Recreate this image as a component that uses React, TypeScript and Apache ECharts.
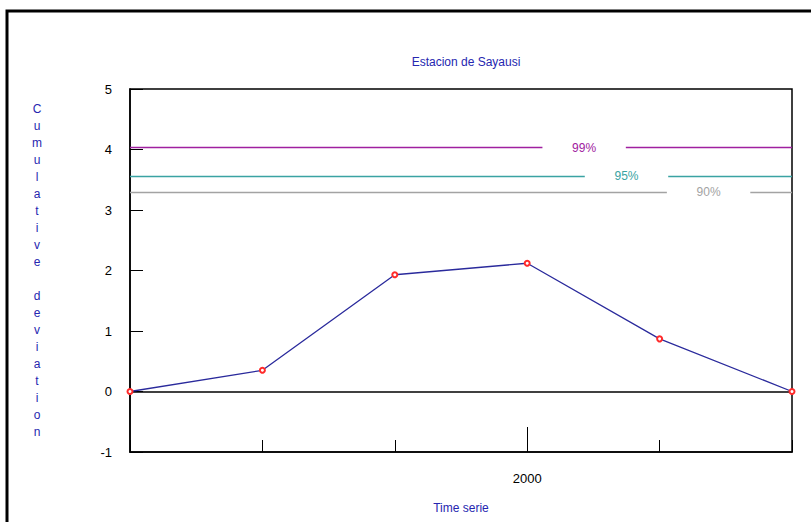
import React, { useEffect, useRef } from "react";
import * as echarts from "echarts";

// Years along the time axis and the cumulative deviation for each of them
const years = ["1997", "1998", "1999", "2000", "2001", "2002"];
const cumulativeDeviation = [0, 0.35, 1.93, 2.12, 0.87, 0];

// Critical values of the cumulative deviation test
const thresholdNames = ["99%", "95%", "90%"];
const thresholdLevels = [4.03, 3.56, 3.29];

// Y axis range
const yMin = -1;
const yMax = 5;
const yStep = 1;

const labelledYear = "2000";

// Layout / style (kept apart from the data)
const thresholdColors = ["#a020a0", "#3aa3a3", "#a3a3a3"];
const thresholdLabelAt = [2000.43, 2000.75, 2001.37];
const labelGapHalf = 0.315;
const navy = "#2626b0";
const font = "'Liberation Sans Narrow', 'Liberation Sans', Arial, sans-serif";

export default function App() {
  const ref = useRef<HTMLDivElement>(null);

  useEffect(() => {
    if (!ref.current) return;
    const chart = echarts.init(ref.current, null, { renderer: "svg" });

    const firstYear = Number(years[0]);
    const lastYear = Number(years[years.length - 1]);
    const points = years.map((y, i) => [Number(y), cumulativeDeviation[i]]);

    // Each threshold line is split in two around its label
    const segments: any[] = [];
    thresholdLevels.forEach((lvl, i) => {
      const style = { color: thresholdColors[i], width: 1.3, type: "solid" };
      segments.push([
        { coord: [firstYear, lvl], lineStyle: style },
        { coord: [thresholdLabelAt[i] - labelGapHalf, lvl] },
      ]);
      segments.push([
        { coord: [thresholdLabelAt[i] + labelGapHalf, lvl], lineStyle: style },
        { coord: [lastYear, lvl] },
      ]);
    });
    // Zero line
    segments.push([
      { coord: [firstYear, 0], lineStyle: { color: "#000", width: 1.5, type: "solid" } },
      { coord: [lastYear, 0] },
    ]);

    const isLabelled = (i: number) => years[i] === labelledYear;

    chart.setOption({
      animation: false,
      backgroundColor: "#ffffff",
      title: {
        text: "Estacion de Sayausi",
        left: 461,
        top: 51,
        textAlign: "center",
        textStyle: { color: navy, fontSize: 12, fontWeight: "normal", fontFamily: font },
      },
      graphic: [
        {
          type: "rect",
          shape: { x: 7, y: 11, width: 900, height: 900 },
          style: { fill: "none", stroke: "#000", lineWidth: 3 },
          silent: true,
        },
      ],
      grid: {
        left: 130,
        right: 19,
        top: 89,
        bottom: 70,
        show: true,
        borderColor: "#000",
        borderWidth: 1.5,
        backgroundColor: "transparent",
      },
      xAxis: [
        {
          type: "value",
          min: firstYear,
          max: lastYear,
          interval: 1,
          axisLine: { show: true, onZero: false, lineStyle: { color: "#000", width: 1.5 } },
          axisTick: { show: true, inside: true, length: 12, lineStyle: { color: "#000", width: 1 } },
          axisLabel: { show: false },
          splitLine: { show: false },
        },
        {
          type: "category",
          data: years,
          boundaryGap: false,
          position: "bottom",
          axisLine: { show: false, onZero: false },
          axisTick: {
            show: true,
            inside: true,
            length: 25,
            interval: (i: number) => isLabelled(i),
            lineStyle: { color: "#000", width: 1 },
          },
          axisLabel: {
            interval: (i: number) => isLabelled(i),
            margin: 20,
            color: "#000",
            fontSize: 13,
            fontFamily: font,
          },
          splitLine: { show: false },
          name: "Time serie",
          nameLocation: "middle",
          nameGap: 50,
          nameTextStyle: { color: navy, fontSize: 12, fontFamily: font },
        },
      ],
      yAxis: {
        type: "value",
        min: yMin,
        max: yMax,
        interval: yStep,
        axisLine: { show: true, onZero: false, lineStyle: { color: "#000", width: 1.5 } },
        axisTick: { show: true, inside: true, length: 13, lineStyle: { color: "#000", width: 1 } },
        axisLabel: { margin: 18, color: "#000", fontSize: 13, fontFamily: font },
        splitLine: { show: false },
        name: "Cumulative deviation".split("").join("\n"),
        nameLocation: "middle",
        nameRotate: 0,
        nameGap: 93,
        nameTextStyle: {
          color: navy,
          fontSize: 12,
          lineHeight: 17,
          align: "center",
          verticalAlign: "middle",
          fontFamily: font,
        },
      },
      series: [
        {
          type: "line",
          xAxisIndex: 0,
          data: points,
          symbol: "emptyCircle",
          symbolSize: 5,
          lineStyle: { color: "#2a2a9c", width: 1.3 },
          itemStyle: { color: "#ff2a2a", borderColor: "#ff2a2a", borderWidth: 1 },
          z: 3,
          markLine: {
            silent: true,
            symbol: ["none", "none"],
            label: { show: false },
            data: segments,
            z: 2,
          },
          markPoint: {
            silent: true,
            symbol: "rect",
            symbolSize: 1,
            itemStyle: { color: "transparent" },
            data: thresholdLevels.map((lvl, i) => ({
              coord: [thresholdLabelAt[i], lvl],
              label: {
                show: true,
                position: "inside",
                formatter: thresholdNames[i],
                color: thresholdColors[i],
                fontSize: 12,
                fontFamily: font,
              },
            })),
          },
        },
      ],
    });

    return () => chart.dispose();
  }, []);

  return (
    <div
      ref={ref}
      style={{ position: "fixed", left: 0, top: 0, width: 811, height: 522 }}
    />
  );
}
